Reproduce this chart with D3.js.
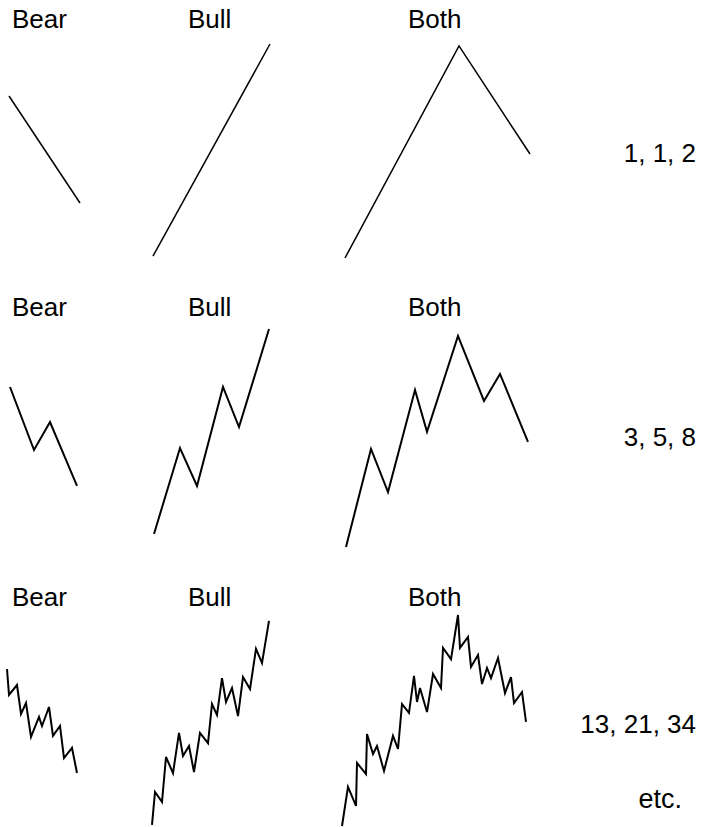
<!DOCTYPE html>
<html>
<head>
<meta charset="utf-8">
<script src="https://cdn.jsdelivr.net/npm/d3@7"></script>
<style>
  html, body { margin: 0; padding: 0; background: #fff; }
  svg { display: block; }
  text { font-family: Arial, "Liberation Sans", sans-serif; fill: #000; }
</style>
</head>
<body>
<svg id="chart" width="701" height="827"></svg>
<script>
// Column and row labels
const columnLabels = ["Bear", "Bull", "Both"];
const waveCounts = ["1, 1, 2", "3, 5, 8", "13, 21, 34"];
const moreLabel = "etc.";

// Each wave: [time, price] pairs (price in percent of row height)
// Row 1 (1, 1, 2 waves)
const bear1 = [[0, 75.7], [71, 25.7]];
const bull1 = [[0, 0.9], [117, 100]];
const both1 = [[0, 0], [114, 99.1], [185, 48.6]];

// Row 2 (3, 5, 8 waves)
const bear2 = [[0, 73.4], [24, 44.5], [40, 57.3], [67, 28.0]];
const bull2 = [[0, 6.0], [26, 45.4], [43, 28.0], [69, 73.4], [85, 55.0], [115, 100]];
const both2 = [[0, 0], [25, 45.0], [42, 25.2], [69, 72.0], [81, 52.8], [112, 96.8],
               [138, 67.0], [154, 79.4], [182, 48.2]];

// Row 3 (13, 21, 34 waves)
const bear3 = [[0, 74.4], [2, 62.1], [10, 66.8], [14, 53.1], [19, 58.3], [24, 42.2],
               [32, 51.7], [35, 47.4], [42, 56.4], [46, 42.7], [53, 47.4], [57, 32.2],
               [65, 37.0], [70, 25.1]];
const bull3 = [[0, 0.5], [3, 16.1], [10, 11.4], [14, 32.7], [21, 25.1], [27, 44.1],
               [31, 33.2], [37, 37.9], [42, 25.6], [48, 44.1], [56, 39.3], [60, 57.8],
               [65, 52.6], [70, 70.1], [74, 58.8], [80, 65.4], [86, 52.1], [91, 70.6],
               [98, 64.9], [104, 83.9], [110, 77.3], [117, 97.2]];
const both3 = [[0, 0], [6, 18.5], [14, 9.5], [15, 29.9], [24, 24.6], [25, 43.6],
               [31, 34.1], [35, 37.9], [42, 26.1], [51, 42.7], [56, 36.5], [60, 57.8],
               [67, 53.6], [72, 71.1], [75, 58.8], [78, 65.4], [85, 54.0], [91, 72.0],
               [99, 65.4], [101, 84.4], [109, 79.1], [116, 100], [118, 84.4], [126, 89.6],
               [129, 75.4], [136, 81.0], [140, 67.3], [145, 74.9], [149, 70.1], [156, 79.6],
               [163, 63.0], [169, 70.6], [172, 58.3], [180, 63.5], [184, 49.3]];

const waves = [[bear1, bull1, both1], [bear2, bull2, both2], [bear3, bull3, both3]];

// Layout
const rowLayout = [
  { top: 44, bottom: 258, labelY: 28, countY: 162, stroke: 1.5 },
  { top: 329, bottom: 547, labelY: 316, countY: 446, stroke: 2 },
  { top: 615, bottom: 826, labelY: 606, countY: 733, stroke: 2 }
];
const panelX = [[9, 153, 345], [10, 154, 346], [7, 152, 342]];
const labelX = [12, 188, 408];
const countRight = 696;

const svg = d3.select("#chart");

rowLayout.forEach((row, r) => {
  const y = d3.scaleLinear().domain([0, 100]).range([row.bottom, row.top]);

  columnLabels.forEach((lab, c) => {
    svg.append("text")
      .attr("x", labelX[c])
      .attr("y", row.labelY)
      .attr("font-size", 26)
      .text(lab);

    const data = waves[r][c];
    const tMax = d3.max(data, d => d[0]);
    const x = d3.scaleLinear().domain([0, tMax]).range([panelX[r][c], panelX[r][c] + tMax]);
    const line = d3.line().x(d => x(d[0])).y(d => y(d[1]));
    svg.append("path")
      .datum(data)
      .attr("d", line)
      .attr("fill", "none")
      .attr("stroke", "#000")
      .attr("stroke-width", row.stroke)
      .attr("stroke-linejoin", "miter");
  });

  svg.append("text")
    .attr("x", countRight)
    .attr("y", row.countY)
    .attr("text-anchor", "end")
    .attr("font-size", 26)
    .text(waveCounts[r]);
});

svg.append("text")
  .attr("x", 682)
  .attr("y", 808)
  .attr("text-anchor", "end")
  .attr("font-size", 27)
  .text(moreLabel);
</script>
</body>
</html>
